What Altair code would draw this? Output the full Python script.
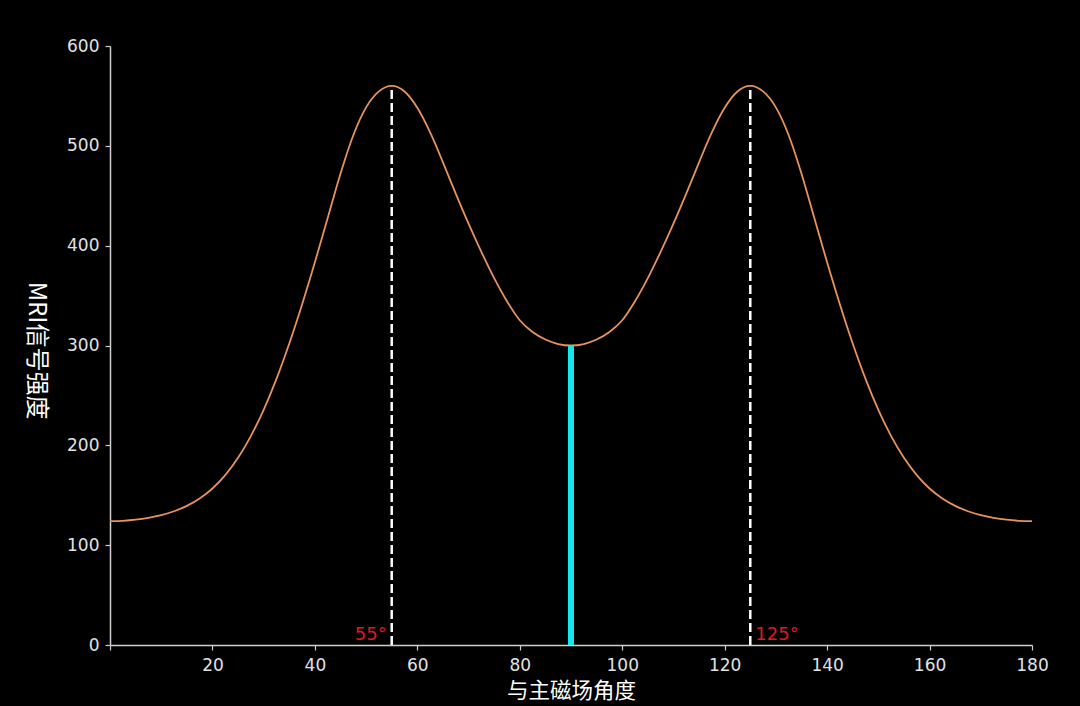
import altair as alt
import pandas as pd

# Page background: make the page behind the chart black like the reference
try:
    import altair.utils.html as _ah

    _orig_tpl = _ah.TEMPLATES["standard"]

    class _BlackPage:
        def render(self, **kw):
            html = _orig_tpl.render(**kw)
            style = "<style>html,body{background:#000000;margin:0;padding:0;}</style>"
            if "<head>" in html:
                return html.replace("<head>", "<head>" + style, 1)
            return style + html

    _ah.TEMPLATES["standard"] = _BlackPage()
except Exception:
    pass

# ---- data ----
angles = [i * 2.5 for i in range(73)]  # 0 .. 180 sample grid (degrees)
signal = [124, 124.4, 125.5, 127.4, 130.1, 134, 139.4, 146.8, 156.8, 170.2, 187.5,
          209.3, 235.6, 266.6, 302, 341.1, 383.3, 427.8, 472.1, 510.6, 538.5, 554.5,
          560, 554.4, 538.1, 513.4, 483.5, 452.1, 422, 393.8, 367.5, 344.4, 325.3,
          313.5, 306, 301.5, 300,
          301.5, 306, 313.5, 325.3, 344.4, 367.5, 393.8, 422, 452.1, 483.5, 513.4,
          538.1, 554.4, 560, 554.5, 538.5, 510.6, 472.1, 427.8, 383.3, 341.1, 302,
          266.6, 235.6, 209.3, 187.5, 170.2, 156.8, 146.8, 139.4, 134, 130.1, 127.4,
          125.5, 124.4, 124]

magic_angles = [55, 125]
magic_tops = [560, 560]
magic_labels = ["55°", "125°"]

center_angle = [90]
center_top = [300]

x_ticks = [0, 20, 40, 60, 80, 100, 120, 140, 160, 180]
y_ticks = [0, 100, 200, 300, 400, 500, 600]

curve_df = pd.DataFrame({"angle": angles, "signal": signal})
magic_df = pd.DataFrame({"angle": magic_angles, "base": [0, 0], "top": magic_tops,
                         "label": magic_labels})
center_df = pd.DataFrame({"angle": center_angle, "base": [0], "top": center_top})

LABEL_FONT = "DejaVu Sans"
TITLE_FONT = "Noto Sans CJK SC"
AXIS_GRAY = "#cfcfcf"

x_enc = alt.X(
    "angle:Q",
    scale=alt.Scale(domain=[0, 180], nice=False, zero=False),
    axis=alt.Axis(
        values=x_ticks,
        labelExpr="datum.value == 0 ? '' : datum.label",
        title="与主磁场角度",
        grid=False,
        domainColor=AXIS_GRAY,
        domainWidth=1.5,
        tickColor=AXIS_GRAY,
        tickSize=5,
        tickWidth=1.2,
        labelColor="#e2e2e2",
        labelFont=LABEL_FONT,
        labelFontSize=17,
        labelPadding=7,
        labelFlush=False,
        titleFont=TITLE_FONT,
        titleFontSize=21.5,
        titleFontWeight="normal",
        titleColor="#ffffff",
        titleX=461,
        titleY=46,
        titleAlign="center",
        titleBaseline="middle",
    ),
)

y_enc = alt.Y(
    "signal:Q",
    scale=alt.Scale(domain=[0, 600], nice=False),
    axis=alt.Axis(
        values=y_ticks,
        title="MRI信号强度",
        grid=False,
        domainColor=AXIS_GRAY,
        domainWidth=1.5,
        tickColor=AXIS_GRAY,
        tickSize=5,
        tickWidth=1.2,
        labelColor="#e2e2e2",
        labelFont=LABEL_FONT,
        labelFontSize=17,
        labelPadding=6,
        labelFlush=False,
        titleFont=TITLE_FONT,
        titleFontSize=24,
        titleFontWeight="normal",
        titleColor="#ffffff",
        titleAngle=90,
        titleX=-75,
        titleY=304,
        titleAlign="center",
        titleBaseline="middle",
    ),
)

curve = alt.Chart(curve_df).mark_line(
    color="#e8935a", strokeWidth=1.8, interpolate="monotone"
).encode(x=x_enc, y=y_enc)

dashed = alt.Chart(magic_df).mark_rule(
    color="#ffffff", strokeWidth=2.5, strokeDash=[9, 4]
).encode(x="angle:Q", y="base:Q", y2="top:Q")

cyan = alt.Chart(center_df).mark_rule(
    color="#14e6ee", strokeWidth=6
).encode(x="angle:Q", y="base:Q", y2="top:Q")

label_left = alt.Chart(magic_df.iloc[[0]]).mark_text(
    color="#dc1a1f", font=LABEL_FONT, fontSize=18, align="right", baseline="bottom",
    dx=-5, dy=-1
).encode(x="angle:Q", y="base:Q", text="label:N")

label_right = alt.Chart(magic_df.iloc[[1]]).mark_text(
    color="#dc1a1f", font=LABEL_FONT, fontSize=18, align="left", baseline="bottom",
    dx=5, dy=-1
).encode(x="angle:Q", y="base:Q", text="label:N")

chart = alt.layer(curve, cyan, dashed, label_left, label_right).properties(
    width=922,
    height=599,
    padding={"left": 110, "top": 46, "right": 44, "bottom": 58},
    autosize=alt.AutoSizeParams(type="none"),
    background="#000000",
).configure_view(stroke=None)

chart.save("out.html", embed_options={"renderer": "svg", "actions": False})
